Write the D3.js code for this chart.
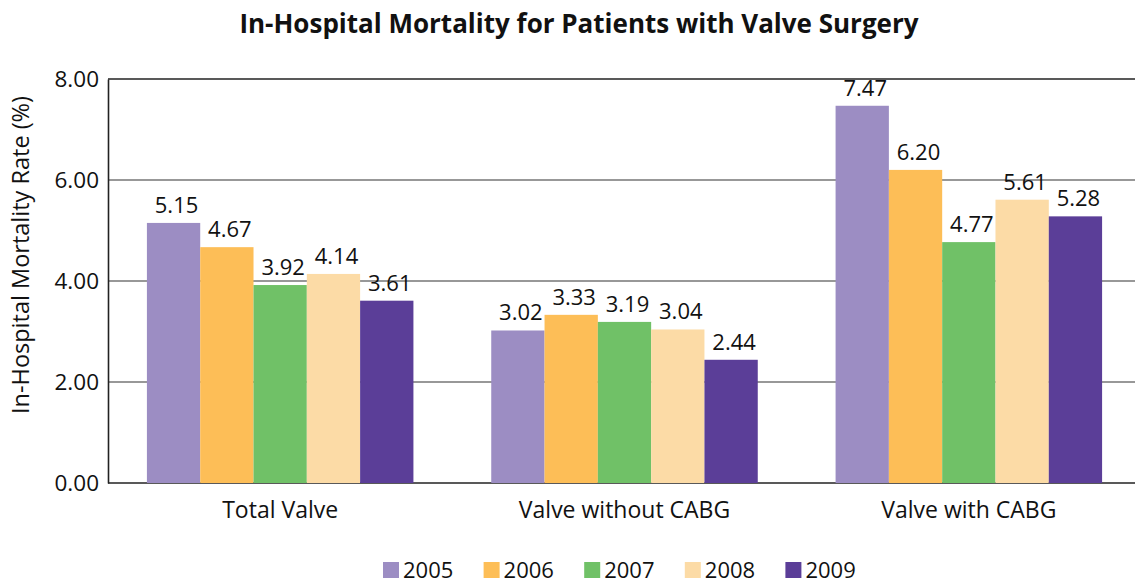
<!DOCTYPE html>
<html>
<head>
<meta charset="utf-8">
<script src="https://cdn.jsdelivr.net/npm/d3@7"></script>
<style>
  body { margin: 0; background: #fff; }
  svg text { font-family: "Open Sans", "Lato", sans-serif; fill: #111; }
  .title { font-weight: bold; font-size: 26px; }
  .tick text { font-size: 22.5px; }
  .lbl { font-size: 22px; }
</style>
</head>
<body>
<div id="chart"></div>
<script>
var categories = ["Total Valve", "Valve without CABG", "Valve with CABG"];
var years = ["2005", "2006", "2007", "2008", "2009"];
var v2005 = [5.15, 3.02, 7.47];
var v2006 = [4.67, 3.33, 6.20];
var v2007 = [3.92, 3.19, 4.77];
var v2008 = [4.14, 3.04, 5.61];
var v2009 = [3.61, 2.44, 5.28];
var yTicks = [0, 2, 4, 6, 8];
var colors = ["#9c8dc3", "#fdbe57", "#70c167", "#fcdba6", "#5b3e98"];

var series = [v2005, v2006, v2007, v2008, v2009];
var width = 1135, height = 586;
var plotLeft = 108, plotRight = 1141, plotTop = 79, plotBottom = 483;

var svg = d3.select("#chart").append("svg")
    .attr("width", width)
    .attr("height", height);

var x0 = d3.scaleBand().domain(categories).range([plotLeft, plotRight]).padding(0);
var inner = x0.bandwidth() * 0.113;
var x1 = d3.scaleBand().domain(years).range([inner, x0.bandwidth() - inner]).padding(0);
var y = d3.scaleLinear().domain([0, 8]).range([plotBottom, plotTop]);
var color = d3.scaleOrdinal().domain(years).range(colors);

// title
svg.append("text")
    .attr("class", "title")
    .attr("x", 579)
    .attr("y", 33)
    .attr("text-anchor", "middle")
    .text("In-Hospital Mortality for Patients with Valve Surgery");

// gridlines
svg.append("g").selectAll("line")
    .data(yTicks)
    .join("line")
    .attr("x1", plotLeft).attr("x2", width)
    .attr("y1", d => y(d)).attr("y2", d => y(d))
    .attr("stroke", d => d == 0 || d == 8 ? "#222" : "#333")
    .attr("stroke-width", d => d == 0 || d == 8 ? 1.6 : 1.2);

// bars
var groups = svg.append("g").selectAll("g")
    .data(categories)
    .join("g")
    .attr("transform", d => "translate(" + x0(d) + ",0)");

groups.selectAll("rect")
    .data((d, i) => years.map((yr, j) => ({year: yr, value: series[j][i]})))
    .join("rect")
    .attr("x", d => x1(d.year))
    .attr("width", x1.bandwidth())
    .attr("y", d => y(d.value))
    .attr("height", d => y(0) - y(d.value))
    .attr("fill", d => color(d.year));

groups.selectAll("text")
    .data((d, i) => years.map((yr, j) => ({year: yr, value: series[j][i]})))
    .join("text")
    .attr("class", "lbl")
    .attr("x", d => x1(d.year) + x1.bandwidth() / 2 + 3)
    .attr("y", d => y(d.value) - 10)
    .attr("text-anchor", "middle")
    .text(d => d.value.toFixed(2));

// y axis
var yAxis = svg.append("g")
    .attr("transform", "translate(" + plotLeft + ",0)")
    .call(d3.axisLeft(y).tickValues(yTicks).tickFormat(d3.format(".2f")).tickSize(0).tickPadding(9));
yAxis.select(".domain").attr("stroke", "#222").attr("stroke-width", 1.6);
yAxis.selectAll(".tick text").attr("dy", "0.35em");

// x axis labels
var xAxis = svg.append("g")
    .attr("transform", "translate(0," + plotBottom + ")")
    .call(d3.axisBottom(x0).tickSize(0).tickPadding(19));
xAxis.select(".domain").remove();
xAxis.selectAll(".tick text").style("font-size", "23px");

// y title
svg.append("text")
    .attr("class", "lbl")
    .attr("transform", "translate(29,255) rotate(-90)")
    .attr("text-anchor", "middle")
    .style("font-size", "23.5px")
    .text("In-Hospital Mortality Rate (%)");

// legend
var legend = svg.append("g").selectAll("g")
    .data(years)
    .join("g")
    .attr("transform", (d, i) => "translate(" + (383 + i * 100.6) + ",562)");
legend.append("rect")
    .attr("width", 16).attr("height", 16)
    .attr("fill", d => color(d));
legend.append("text")
    .attr("class", "lbl")
    .attr("x", 20)
    .attr("y", 16)
    .style("font-size", "22px")
    .text(d => d);
</script>
</body>
</html>
